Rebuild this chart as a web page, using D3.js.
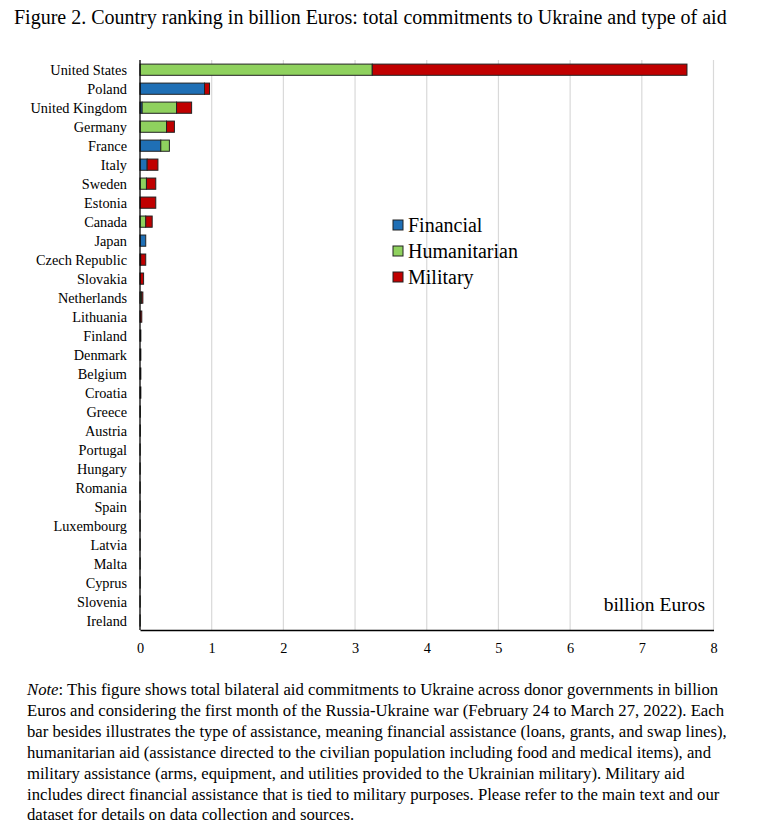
<!DOCTYPE html>
<html>
<head>
<meta charset="utf-8">
<script src="https://cdn.jsdelivr.net/npm/d3@7"></script>
<style>
  html, body { margin: 0; padding: 0; background: #fff; }
  body { width: 764px; height: 835px; overflow: hidden; font-family: "Liberation Serif", "Times New Roman", serif; }
  svg text { font-family: "Liberation Serif", "Times New Roman", serif !important; fill: #000; }
</style>
</head>
<body>
<svg id="chart" width="764" height="835"></svg>
<script>
const countries = ["United States","Poland","United Kingdom","Germany","France","Italy","Sweden","Estonia","Canada","Japan","Czech Republic","Slovakia","Netherlands","Lithuania","Finland","Denmark","Belgium","Croatia","Greece","Austria","Portugal","Hungary","Romania","Spain","Luxembourg","Latvia","Malta","Cyprus","Slovenia","Ireland"];
const financial    = [0,    0.90, 0.03, 0,    0.29, 0.10, 0,    0,    0,    0.08, 0,    0,    0,    0,    0,     0,     0,     0,     0,     0,     0,     0,     0,     0,     0,     0,     0,     0,     0,     0];
const humanitarian = [3.24, 0,    0.48, 0.37, 0.12, 0,    0.09, 0,    0.08, 0,    0.01, 0,    0.02, 0,    0.012, 0.012, 0,     0,     0.004, 0.004, 0.002, 0.002, 0.002, 0.002, 0.002, 0.002, 0.002, 0.002, 0.002, 0.002];
const military     = [4.39, 0.07, 0.21, 0.11, 0,    0.15, 0.13, 0.22, 0.09, 0,    0.07, 0.05, 0.02, 0.025,0,     0,     0.012, 0.012, 0,     0,     0,     0,     0,     0,     0,     0,     0,     0,     0,     0];
const seriesNames = ["Financial","Humanitarian","Military"];
const seriesColors = ["#1f6fb5","#8fd15e","#c00000"];
const xTicks = [0,1,2,3,4,5,6,7,8];

const rows = countries.map((c,i)=>({country:c, Financial:financial[i], Humanitarian:humanitarian[i], Military:military[i]}));

const svg = d3.select("#chart");
const x = d3.scaleLinear().domain([0,8]).range([140, 713.5]);
const y = d3.scaleBand().domain(countries).range([60.2, 630]).paddingInner(0.41).paddingOuter(0.205);

// title
svg.append("text").attr("x", 14).attr("y", 24).attr("font-size", 20)
  .text("Figure 2. Country ranking in billion Euros: total commitments to Ukraine and type of aid");

// grid
svg.append("g").selectAll("line").data(xTicks.filter(d=>d>0)).join("line")
  .attr("x1", d=>x(d)).attr("x2", d=>x(d)).attr("y1", 60).attr("y2", 630)
  .attr("stroke", "#d9d9d9").attr("stroke-width", 1.2);

// stacked bars
const stack = d3.stack().keys(seriesNames)(rows);
const color = d3.scaleOrdinal().domain(seriesNames).range(seriesColors);
svg.append("g").selectAll("g").data(stack).join("g")
  .attr("fill", d=>color(d.key))
  .selectAll("rect").data(d=>d).join("rect")
  .attr("x", d=>x(d[0]))
  .attr("y", d=>y(d.data.country))
  .attr("width", d=>Math.max(0, x(d[1])-x(d[0])))
  .attr("height", y.bandwidth())
  .attr("stroke", "#222").attr("stroke-width", d=> (d[1]-d[0])>0 ? 1 : 0);

// axes lines
svg.append("line").attr("x1",140).attr("x2",140).attr("y1",60).attr("y2",630).attr("stroke","#000").attr("stroke-width",1.3);
const xAxis = d3.axisBottom(x).tickValues(xTicks).tickSize(0).tickPadding(13).tickFormat(d3.format("d"));
const gx = svg.append("g").attr("transform","translate(0,630)").call(xAxis);
gx.select(".domain").attr("stroke","#000").attr("stroke-width",1.3);
gx.selectAll("text").attr("font-size",14.3);

const yAxis = d3.axisLeft(y).tickSize(0).tickPadding(13);
const gy = svg.append("g").attr("transform","translate(140,1)").call(yAxis);
gy.select(".domain").remove();
gy.selectAll("text").attr("font-size",14.3);

// legend
const lg = svg.append("g").attr("transform","translate(393,225)");
seriesNames.forEach((s,i)=>{
  lg.append("rect").attr("x",0).attr("y",i*26-5).attr("width",10).attr("height",10)
    .attr("fill",color(s)).attr("stroke","#222").attr("stroke-width",1);
  lg.append("text").attr("x",15).attr("y",i*26+7).attr("font-size",20).text(s);
});

// unit label
svg.append("text").attr("x",705).attr("y",611).attr("text-anchor","end").attr("font-size",19.5).text("billion Euros");

// note
const noteLines = [
  "This figure shows total bilateral aid commitments to Ukraine across donor governments in billion",
  "Euros and considering the first month of the Russia-Ukraine war (February 24 to March 27, 2022). Each",
  "bar besides illustrates the type of assistance, meaning financial assistance (loans, grants, and swap lines),",
  "humanitarian aid (assistance directed to the civilian population including food and medical items), and",
  "military assistance (arms, equipment, and utilities provided to the Ukrainian military). Military aid",
  "includes direct financial assistance that is tied to military purposes. Please refer to the main text and our",
  "dataset for details on data collection and sources."
];
const note = svg.append("g");
noteLines.forEach((t,i)=>{
  const tx = note.append("text").attr("x",27).attr("y",695 + i*20.9).attr("font-size",16.7);
  if (i===0) {
    tx.append("tspan").attr("font-style","italic").text("Note");
    tx.append("tspan").text(": " + t);
  } else {
    tx.text(t);
  }
});
</script>
</body>
</html>
